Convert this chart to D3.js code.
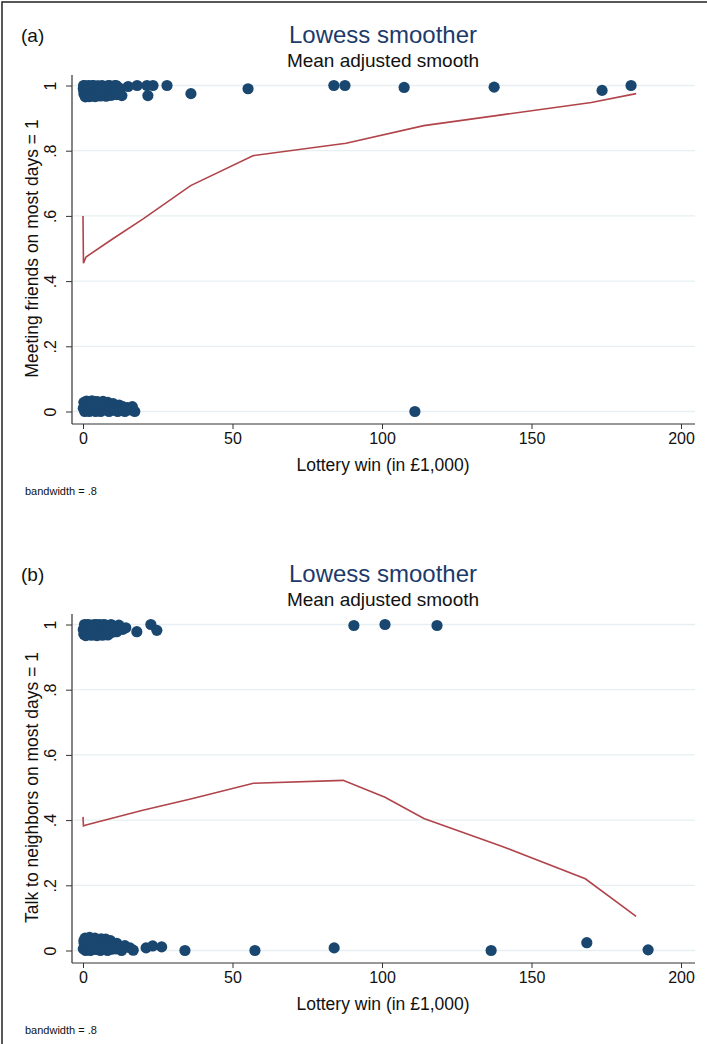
<!DOCTYPE html>
<html>
<head>
<meta charset="utf-8">
<script src="https://cdn.jsdelivr.net/npm/d3@7"></script>
<style>
  html, body { margin: 0; padding: 0; background: #fff; }
  svg { display: block; font-family: "Liberation Sans", Arial, Helvetica, sans-serif; }
</style>
</head>
<body>
<svg id="chart" width="707" height="1044"></svg>
<script>
// ---- Panel (a): meeting friends on most days ----
const friendsYes = [
  [0.1,0.99],[0.3,0.975],[0.5,1.0],[0.7,0.968],[0.9,0.985],[1.1,0.995],[1.3,0.972],[1.5,0.99],
  [1.7,0.98],[1.9,1.0],[2.1,0.966],[2.3,0.988],[2.6,0.975],[2.8,0.997],[3.0,0.97],[3.3,0.985],
  [3.6,1.0],[3.9,0.976],[4.2,0.992],[4.5,0.968],[4.8,0.983],[5.1,0.998],[5.4,0.973],[5.7,0.99],
  [6.0,0.98],[6.3,1.0],[6.6,0.97],[6.9,0.987],[7.2,0.995],[7.5,0.975],[7.8,0.99],[8.1,0.982],
  [8.4,1.0],[8.7,0.972],[9.0,0.993],[9.3,0.98],[9.6,0.997],[9.9,0.985],[10.2,0.975],[10.5,0.995],
  [10.8,0.985],[11.1,1.0],[11.5,0.99],[12.0,0.98],
  [0.4,0.982],[1.2,0.978],[2.0,0.982],[2.9,0.979],[3.8,0.988],[4.6,0.978],[5.5,0.983],[6.4,0.986],
  [7.3,0.979],[8.2,0.99],[9.1,0.977],[10.0,0.99],[10.9,0.978],[11.7,0.995],[0.8,0.965],[2.4,0.967],
  [4.0,0.966],[5.9,0.968],[7.7,0.967],[9.5,0.97],[11.3,0.972],[0.2,1.0],[1.6,0.998],[3.1,1.0],
  [4.9,0.999],[6.7,0.998],[8.9,1.0],[10.6,1.0],[12.3,0.99],
  [13.0,0.969],[15.1,0.997],[18.1,1.0],[21.4,1.0],[21.7,0.969],[23.4,1.0],[28.1,1.0],
  [36.1,0.975],[55.2,0.99],[83.9,1.0],[87.6,1.0],[107.4,0.994],[137.5,0.995],[173.6,0.985],[183.3,1.0]
];
const friendsNo = [
  [0.1,0.01],[0.3,0.028],[0.6,0.0],[0.9,0.02],[1.2,0.032],[1.5,0.008],[1.8,0.025],[2.1,0.0],
  [2.4,0.03],[2.7,0.015],[3.0,0.033],[3.3,0.005],[3.6,0.022],[3.9,0.03],[4.2,0.0],[4.5,0.018],
  [4.8,0.03],[5.1,0.01],[5.5,0.027],[5.9,0.0],[6.3,0.02],[6.7,0.031],[7.1,0.006],[7.5,0.025],
  [7.9,0.013],[8.3,0.028],[8.7,0.0],[9.1,0.02],[9.6,0.01],[10.1,0.024],[10.6,0.004],[11.1,0.018],
  [11.6,0.0],[12.1,0.02],[12.7,0.008],[13.3,0.015],[14.0,0.0],[14.8,0.012],[15.8,0.005],
  [0.5,0.015],[1.4,0.02],[2.3,0.012],[3.2,0.02],[4.1,0.013],[5.0,0.02],[6.0,0.012],[7.0,0.018],
  [8.0,0.005],[9.0,0.01],[10.0,0.012],[11.9,0.01],[13.6,0.008],
  [16.5,0.015],[17.3,0.0],[111.0,0.0]
];
const friendsSmooth = [
  [0,0.6],[0.15,0.455],[1,0.474],[10,0.53],[20,0.59],[36,0.693],[57,0.785],[88,0.823],
  [114,0.877],[140,0.91],[170,0.948],[185,0.975]
];

// ---- Panel (b): talking to neighbours on most days ----
const neighborsYes = [
  [0.1,0.985],[0.3,0.97],[0.5,1.0],[0.7,0.978],[0.9,0.993],[1.1,0.968],[1.3,0.985],[1.5,1.0],
  [1.8,0.975],[2.1,0.99],[2.4,0.97],[2.7,0.998],[3.0,0.982],[3.3,0.972],[3.6,0.995],[3.9,0.985],
  [4.2,0.968],[4.5,1.0],[4.8,0.978],[5.1,0.99],[5.4,0.972],[5.7,0.997],[6.0,0.983],[6.3,0.97],
  [6.6,0.993],[6.9,1.0],[7.2,0.975],[7.5,0.988],[7.8,0.97],[8.1,0.996],[8.4,0.98],[8.7,0.99],
  [9.0,0.973],[9.4,1.0],[9.8,0.985],[10.2,0.995],[10.6,0.978],[11.0,0.992],[11.5,0.983],
  [12.0,0.998],[12.6,0.988],[13.3,0.985],[14.3,0.99],
  [0.5,0.978],[1.4,0.977],[2.3,0.982],[3.2,0.99],[4.1,0.978],[5.0,0.98],[5.9,0.988],[6.8,0.978],
  [7.7,0.98],[8.6,0.975],[9.5,0.99],[10.4,0.985],[11.3,0.978],[0.9,0.966],[2.8,0.967],[4.7,0.966],
  [6.5,0.967],[8.3,0.968],[1.9,0.999],[3.8,1.0],[5.6,1.0],[7.4,0.999],[11.8,0.99],
  [18.0,0.978],[22.7,1.0],[24.7,0.982],[90.6,0.997],[101.0,1.0],[118.4,0.997]
];
const neighborsNo = [
  [0.1,0.005],[0.3,0.03],[0.5,0.015],[0.7,0.038],[0.9,0.0],[1.1,0.022],[1.3,0.035],[1.6,0.008],
  [1.9,0.027],[2.2,0.04],[2.5,0.0],[2.8,0.018],[3.1,0.033],[3.4,0.01],[3.7,0.025],[4.0,0.038],
  [4.3,0.003],[4.6,0.02],[4.9,0.032],[5.2,0.012],[5.5,0.028],[5.8,0.0],[6.1,0.036],[6.4,0.017],
  [6.7,0.03],[7.0,0.005],[7.3,0.022],[7.6,0.035],[7.9,0.012],[8.2,0.0],[8.5,0.027],[8.8,0.015],
  [9.2,0.03],[9.6,0.004],[10.0,0.02],[10.5,0.01],[11.3,0.022],[12.9,0.0],[14.0,0.015],
  [0.4,0.022],[1.5,0.017],[2.4,0.03],[3.5,0.018],[4.5,0.01],[5.6,0.018],[6.6,0.008],[7.7,0.02],
  [8.7,0.005],[9.8,0.012],[11.0,0.005],
  [15.7,0.008],[16.8,0.001],[21.1,0.008],[23.3,0.014],[26.3,0.011],[34.1,0.0],[57.5,0.0],
  [84.0,0.008],[136.5,0.0],[168.5,0.024],[189.0,0.002]
];
const neighborsSmooth = [
  [0,0.41],[0.15,0.382],[1,0.385],[20,0.43],[36,0.465],[57,0.513],[87,0.522],[101,0.47],
  [114,0.405],[140,0.32],[168,0.22],[185,0.105]
];

// ---- Shared axis definitions ----
const xTicks = [0, 50, 100, 150, 200];
const yTicks = [0, 0.2, 0.4, 0.6, 0.8, 1];
const yTickLabels = ["0", ".2", ".4", ".6", ".8", "1"];

const panels = [
  { tag: "(a)", yTitle: "Meeting friends on most days = 1",
    yes: friendsYes, no: friendsNo, smooth: friendsSmooth, top: 0 },
  { tag: "(b)", yTitle: "Talk to neighbors on most days = 1",
    yes: neighborsYes, no: neighborsNo, smooth: neighborsSmooth, top: 539 }
];

const svg = d3.select("#chart");
const dotColor = "#1a476f";
const lineColor = "#b0444a";
const gridColor = "#e6eff1";

// outer frame
svg.append("rect").attr("x", 2).attr("y", 2).attr("width", 720).attr("height", 1060)
  .attr("fill", "none").attr("stroke", "#222").attr("stroke-width", 1.5);

panels.forEach(p => {
  const g = svg.append("g").attr("transform", `translate(0,${p.top})`);
  const x = d3.scaleLinear().domain([0, 200]).range([83, 681]);
  const y = d3.scaleLinear().domain([0, 1]).range([411.5, 85.5]);
  const axisY = 424, axisX = 72, plotRight = 695;

  // titles
  g.append("text").attr("x", 21).attr("y", 42).attr("font-size", 19).attr("fill", "#111").text(p.tag);
  g.append("text").attr("x", 383).attr("y", 43).attr("text-anchor", "middle")
    .attr("font-size", 24).attr("fill", "#1c3a6b").text("Lowess smoother");
  g.append("text").attr("x", 383).attr("y", 67).attr("text-anchor", "middle")
    .attr("font-size", 19).attr("fill", "#111").text("Mean adjusted smooth");

  // gridlines
  g.append("g").selectAll("line").data(yTicks).join("line")
    .attr("x1", axisX + 1).attr("x2", plotRight)
    .attr("y1", d => y(d)).attr("y2", d => y(d))
    .attr("stroke", gridColor).attr("stroke-width", 1.3);

  // y axis
  const yAxis = d3.axisLeft(y).tickValues(yTicks).tickSize(6).tickPadding(4)
    .tickFormat((d, i) => yTickLabels[i]);
  const ya = g.append("g").attr("transform", `translate(${axisX},0)`).call(yAxis);
  ya.select(".domain").remove();
  ya.append("line").attr("x1", 0).attr("x2", 0).attr("y1", 75).attr("y2", axisY)
    .attr("stroke", "#333").attr("stroke-width", 1.2);
  ya.selectAll(".tick line").attr("stroke", "#333");
  ya.selectAll(".tick text")
    .attr("font-size", 16).attr("fill", "#111")
    .attr("font-family", "Liberation Sans, Arial, sans-serif")
    .attr("text-anchor", "middle")
    .attr("transform", "rotate(-90)")
    .attr("x", 0).attr("dy", "0").attr("y", -16);

  // x axis
  const xAxis = d3.axisBottom(x).tickValues(xTicks).tickSize(5).tickPadding(4).tickFormat(d3.format("d"));
  const xa = g.append("g").attr("transform", `translate(0,${axisY})`).call(xAxis);
  xa.select(".domain").remove();
  xa.append("line").attr("x1", axisX).attr("x2", plotRight).attr("y1", 0).attr("y2", 0)
    .attr("stroke", "#333").attr("stroke-width", 1.2);
  xa.selectAll(".tick line").attr("stroke", "#333");
  xa.selectAll(".tick text").attr("font-size", 16).attr("fill", "#111")
    .attr("font-family", "Liberation Sans, Arial, sans-serif");

  // axis titles
  g.append("text").attr("transform", `translate(38,${(y(0) + y(1)) / 2}) rotate(-90)`)
    .attr("text-anchor", "middle").attr("font-size", 17.5).attr("fill", "#111").text(p.yTitle);
  g.append("text").attr("x", 383).attr("y", 471).attr("text-anchor", "middle")
    .attr("font-size", 17.5).attr("fill", "#111").text("Lottery win (in £1,000)");
  g.append("text").attr("x", 25).attr("y", 495).attr("font-size", 11).attr("fill", "#111")
    .text("bandwidth = .8");

  // points
  const pts = p.yes.concat(p.no);
  g.append("g").selectAll("circle").data(pts).join("circle")
    .attr("cx", d => x(d[0])).attr("cy", d => y(d[1])).attr("r", 5.6)
    .attr("fill", dotColor);

  // lowess smooth
  const line = d3.line().x(d => x(d[0])).y(d => y(d[1]));
  g.append("path").datum(p.smooth).attr("d", line)
    .attr("fill", "none").attr("stroke", lineColor).attr("stroke-width", 1.6);
});
</script>
</body>
</html>
